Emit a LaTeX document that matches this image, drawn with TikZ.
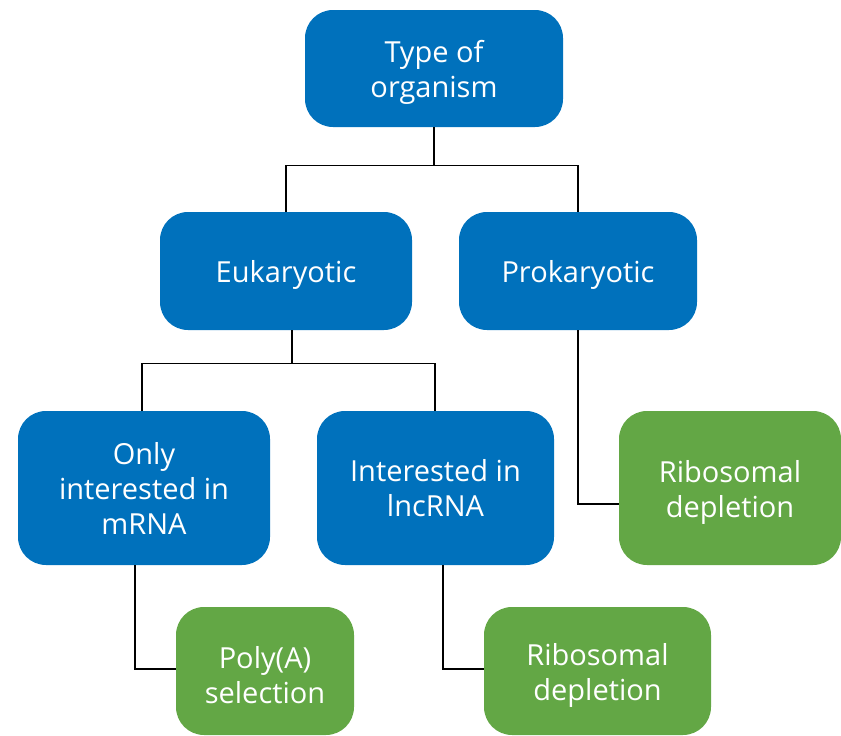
\documentclass[tikz,border=0pt]{standalone}
\usepackage{fontspec}
\setmainfont{Open Sans}
\usetikzlibrary{calc, positioning}

\definecolor{boxblue}{RGB}{0,113,188}
\definecolor{boxgreen}{RGB}{99,167,69}
\newcommand{\topgap}{\rule{0pt}{30pt}}

\begin{document}
\begin{tikzpicture}[x=1pt, y=-1pt,
    box/.style={rounded corners=28pt, text=white, align=center, inner sep=0pt,
        font=\fontsize{29}{35}\selectfont},
    question/.style={box, fill=boxblue},
    method/.style={box, fill=boxgreen},
    link/.style={black, line width=1.2pt}]

    \useasboundingbox (0,0) rectangle (841,736);

    % ==========================================
    % 1. QUESTIONS (blue)
    % ==========================================
    \node[question, minimum width=258pt, minimum height=117pt] (type) at (434, 68.5) {\topgap Type of\\organism};
    \node[question, minimum width=252pt, minimum height=118pt] (euk) at (286, 271) {\topgap Eukaryotic};
    \node[question, minimum width=238pt, minimum height=118pt] (prok) at (578, 271) {\topgap Prokaryotic};
    \node[question, minimum width=252pt, minimum height=154pt] (mrna) at (144, 488) {Only\\interested in\\mRNA};
    \node[question, minimum width=237pt, minimum height=154pt] (lnc) at (435.5, 488) {Interested in\\lncRNA};

    % ==========================================
    % 2. METHODS (green)
    % ==========================================
    \node[method, minimum width=222pt, minimum height=154pt] (ribo) at (730, 488) {\topgap Ribosomal\\depletion};
    \node[method, minimum width=178pt, minimum height=128pt] (polya) at (265, 671) {\topgap Poly(A)\\selection};
    \node[method, minimum width=227pt, minimum height=128pt] (ribolnc) at (597.5, 671) {\topgap Ribosomal\\depletion};

    % ==========================================
    % 3. CONNECTORS
    % ==========================================
    \draw[link] (type.south) -- ++(0,38) coordinate (j1);
    \draw[link] (euk.north) |- (j1) -| (prok.north);

    \draw[link] ([xshift=6pt]euk.south) -- ++(0,33) coordinate (j2);
    \draw[link] ([xshift=-2pt]mrna.north) |- (j2) -| ([xshift=-0.5pt]lnc.north);

    \draw[link] (prok.south) |- ([yshift=-16pt]ribo.west);
    \draw[link] ([xshift=-9pt]mrna.south) |- ([yshift=2pt]polya.west);
    \draw[link] ([xshift=7.5pt]lnc.south) |- ([yshift=2pt]ribolnc.west);

\end{tikzpicture}
\end{document}
